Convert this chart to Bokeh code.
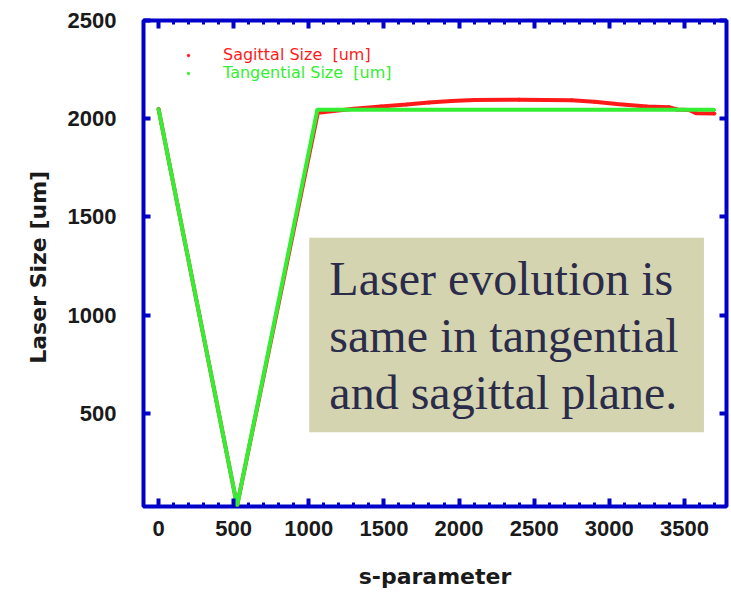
from bokeh.plotting import figure
from bokeh.models import LinearAxis, FixedTicker, Legend, LegendItem, Label, BoxAnnotation, Range1d
from bokeh.embed import file_html
from bokeh.resources import INLINE

# ---- data ----
s_tan = [0, 523, 1057, 3697]
size_tan = [2050, 30, 2045, 2045]

s_sag = [0, 523, 1060, 1150, 1300, 1480, 1650, 1800, 1950, 2100, 2400, 2750,
         2900, 3050, 3250, 3397, 3450, 3530, 3577, 3700]
size_sag = [2050, 30, 2030, 2038, 2050, 2062, 2072, 2082, 2090, 2095, 2097, 2094,
            2086, 2075, 2062, 2058, 2047, 2044, 2028, 2026]

x_major = [0, 500, 1000, 1500, 2000, 2500, 3000, 3500]
x_minor = list(range(-100, 3800, 100))
y_major = [500, 1000, 1500, 2000, 2500]

sag_label = "Sagittal Size  [um]"
tan_label = "Tangential Size  [um]"
x_title = "s-parameter"
y_title = "Laser Size  [um]"
note_lines = ["Laser evolution is", "same in tangential", "and sagittal plane."]

BLUE = "#0000c8"
RED = "#ff1a1a"
GREEN = "#33ee33"
TICK_FONT = "Liberation Sans"
TITLE_FONT = "DejaVu Sans"

p = figure(width=731, height=596, output_backend="svg", toolbar_location=None,
           x_range=Range1d(-100, 3780), y_range=Range1d(25, 2500),
           min_border_left=143, min_border_right=5, min_border_top=20, min_border_bottom=90,
           x_axis_location=None, y_axis_location=None)
p.grid.visible = False
p.outline_line_color = BLUE
p.outline_line_width = 4
p.background_fill_color = "white"
p.border_fill_color = "white"

def style_axis(ax, major_in, minor_in, show_labels):
    ax.axis_line_color = None
    ax.major_tick_line_color = BLUE
    ax.major_tick_line_width = 4
    ax.major_tick_in = major_in
    ax.major_tick_out = 0
    ax.minor_tick_line_color = BLUE if minor_in else None
    ax.minor_tick_line_width = 3
    ax.minor_tick_in = minor_in
    ax.minor_tick_out = 0
    if show_labels:
        ax.major_label_text_font = TICK_FONT
        ax.major_label_text_font_style = "bold"
        ax.major_label_text_font_size = "22px"
        ax.major_label_text_color = "#1a1a1a"
        ax.axis_label_text_font = TITLE_FONT
        ax.axis_label_text_font_style = "bold"
        ax.axis_label_text_font_size = "22px"
        ax.axis_label_text_color = "#1a1a1a"
    else:
        ax.major_label_text_font_size = "0px"
        ax.major_label_standoff = 0
        ax.major_label_overrides = {t: "" for t in (x_major + y_major)}

xb = LinearAxis(ticker=FixedTicker(ticks=x_major, minor_ticks=x_minor), axis_label=x_title)
style_axis(xb, 8, 4, True)
xb.major_label_standoff = 14
xb.axis_label_standoff = 25
p.add_layout(xb, "below")

xt = LinearAxis(ticker=FixedTicker(ticks=x_major, minor_ticks=x_minor))
style_axis(xt, 8, 4, False)
p.add_layout(xt, "above")

yl = LinearAxis(ticker=FixedTicker(ticks=y_major), axis_label=y_title)
style_axis(yl, 7, 0, True)
yl.major_label_standoff = 27
yl.axis_label_standoff = 14
p.add_layout(yl, "left")

yr = LinearAxis(ticker=FixedTicker(ticks=y_major))
style_axis(yr, 7, 0, False)
p.add_layout(yr, "right")

# annotation box behind the data
box = BoxAnnotation(left=1003, right=3630, bottom=403, top=1394,
                    fill_color="#d5d4b1", fill_alpha=1.0, line_color=None, level="underlay")
p.add_layout(box)
for line_text, yb in zip(note_lines, [1188, 898, 608]):
    p.add_layout(Label(x=1137, y=yb, text=line_text, text_font="Liberation Serif",
                       text_font_size="48px", text_color="#2b2c4a",
                       text_baseline="alphabetic", level="underlay"))

# data: small dots (legend markers) and thick curves
sag_pts = p.scatter(s_sag, size_sag, size=3, color=RED)
tan_pts = p.scatter(s_tan, size_tan, size=3, color=GREEN)
p.line(s_sag, size_sag, line_color=RED, line_width=4)
p.line(s_tan, size_tan, line_color=GREEN, line_width=4)

def make_legend(label, rend, color, vy):
    lg = Legend(items=[LegendItem(label=label, renderers=[rend])], location=(42, vy),
                padding=0, margin=0, glyph_width=6, glyph_height=6, label_standoff=32,
                border_line_color=None, background_fill_alpha=0,
                label_text_font=TITLE_FONT, label_text_font_size="16px",
                label_text_color=color, label_height=18)
    p.add_layout(lg, "center")

make_legend(sag_label, sag_pts, RED, 442)
make_legend(tan_label, tan_pts, GREEN, 424)

open("out.html", "w").write(file_html(p, INLINE))
